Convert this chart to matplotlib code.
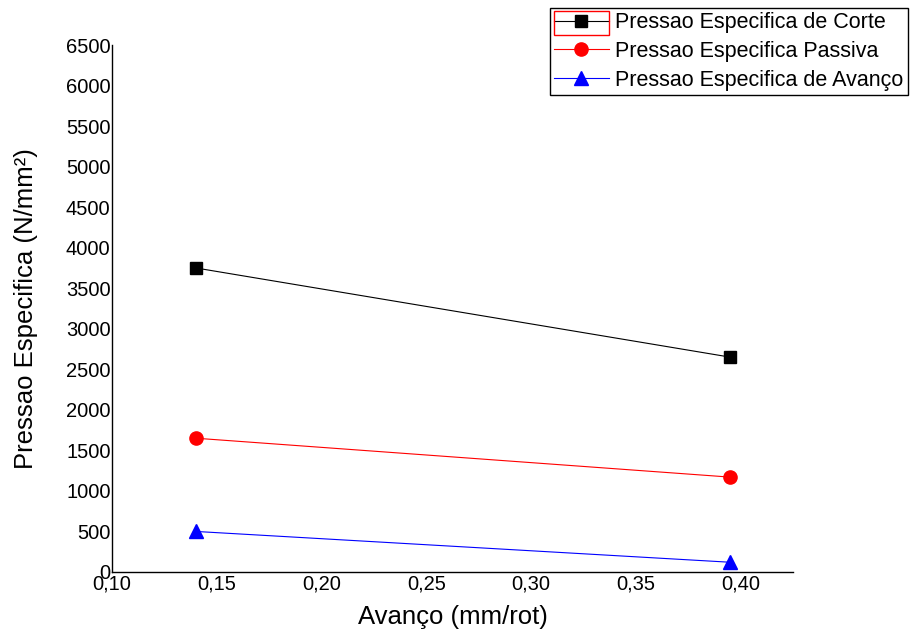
import matplotlib
matplotlib.use('Agg')
import matplotlib.pyplot as plt
from matplotlib.patches import Rectangle
from matplotlib.ticker import FixedLocator, FixedFormatter

plt.rcParams['font.family'] = ['Liberation Sans', 'DejaVu Sans']

# Data
avanco = [0.14, 0.395]
corte = [3750, 2650]
passiva = [1650, 1170]
avanco_p = [500, 120]

x_ticks = [0.10, 0.15, 0.20, 0.25, 0.30, 0.35, 0.40]
x_labels = ['0,10', '0,15', '0,20', '0,25', '0,30', '0,35', '0,40']
y_ticks = list(range(0, 6501, 500))

fig = plt.figure(figsize=(9.15, 6.33), dpi=100)
ax = fig.add_axes([0.1224, 0.0964, 0.7443, 0.8325])

ax.plot(avanco, corte, color='black', lw=0.8, marker='s', ms=9,
        label='Pressao Especifica de Corte')
ax.plot(avanco, passiva, color='red', lw=0.8, marker='o', ms=9.5,
        label='Pressao Especifica Passiva')
ax.plot(avanco, avanco_p, color='blue', lw=0.8, marker='^', ms=10,
        label='Pressao Especifica de Avanço')

ax.set_xlim(0.10, 0.425)
ax.set_ylim(0, 6500)
ax.xaxis.set_major_locator(FixedLocator(x_ticks))
ax.xaxis.set_major_formatter(FixedFormatter(x_labels))
ax.set_yticks(y_ticks)
ax.tick_params(length=0, labelsize=14.5, pad=1)
ax.tick_params(axis='x', pad=2)

for s in ['top', 'right']:
    ax.spines[s].set_visible(False)
for s in ['left', 'bottom']:
    ax.spines[s].set_linewidth(1.0)

ax.set_xlabel('Avanço (mm/rot)', fontsize=18.5, labelpad=8)
ax.set_ylabel('Pressao Especifica (N/mm²)', fontsize=18.5, labelpad=20)

fs = 15.5
leg = fig.legend(loc='upper right', bbox_to_anchor=(0.9923, 0.9874),
                 fontsize=fs, frameon=True, fancybox=False, framealpha=1,
                 edgecolor='black', borderpad=0.2, labelspacing=0.36,
                 handlelength=2.55, handletextpad=0.3, borderaxespad=0)
leg.get_frame().set_linewidth(1.0)

# red selection box around the first legend handle, as in the reference
fig.canvas.draw()
rend = fig.canvas.get_renderer()
tb = leg.get_texts()[0].get_window_extent(rend)
fs_px = fs * fig.dpi / 72
hx1 = tb.x0 - 0.3 * fs_px
hx0 = hx1 - 2.55 * fs_px
yc = (tb.y0 + tb.y1) / 2
hh = 24
inv = fig.transFigure.inverted()
(x0, y0), (x1, y1) = inv.transform([[hx0, yc - hh / 2], [hx1, yc + hh / 2]])
box = Rectangle((x0, y0), x1 - x0, y1 - y0, fill=False, edgecolor='red',
                lw=1, transform=fig.transFigure, zorder=20)
fig.add_artist(box)

fig.savefig('out.png', dpi=100)
